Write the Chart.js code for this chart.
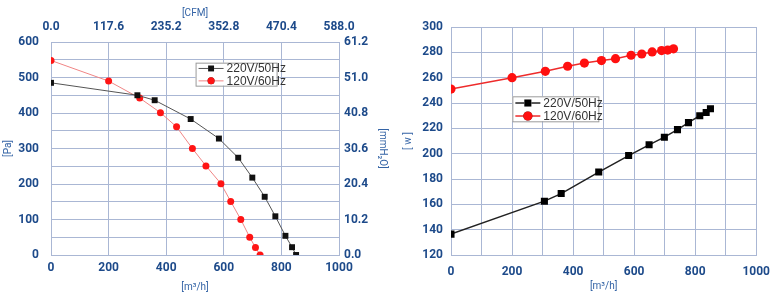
<!DOCTYPE html>
<html>
<head>
<meta charset="utf-8">
<script src="https://cdn.jsdelivr.net/npm/chart.js@4.4.1/dist/chart.umd.min.js"></script>
<style>
  body { margin: 0; background: #fff; }
  #wrap { position: relative; width: 780px; height: 299px; }
  #c1 { position: absolute; left: 0; top: 0; }
  #c2 { position: absolute; left: 392px; top: 0; }
</style>
</head>
<body>
<div id="wrap">
  <canvas id="c1" width="392" height="299"></canvas>
  <canvas id="c2" width="388" height="299"></canvas>
</div>
<script>
// pressure curve (left) - airflow m3/h vs Pa
const pq220Flow = [0, 300, 360, 485, 583, 650, 699, 742, 779, 814, 837, 851];
const pq220Pa   = [485, 450, 436, 383, 328, 274, 218, 164, 109, 54, 22, 0];
const pq120Flow = [0, 200, 308, 380, 436, 491, 538, 590, 624, 659, 690, 710, 726];
const pq120Pa   = [548, 490, 442, 401, 361, 300, 251, 201, 151, 100, 50, 21, 0];

// power curve (right) - airflow m3/h vs W
const pw220Flow = [0, 306, 361, 484, 582, 649, 699, 742, 778, 815, 836, 850];
const pw220W    = [136.5, 162.5, 168.5, 185.5, 198.5, 207, 213, 219, 224.5, 230, 232.5, 235.5];
const pw120Flow = [0, 200, 309, 382, 437, 493, 539, 590, 625, 659, 690, 710, 729];
const pw120W    = [251, 260, 265, 269, 271.5, 273.5, 275, 277.7, 278.7, 280.3, 281.4, 281.8, 282.8];

const seriesLabels = ['220V/50Hz', '120V/60Hz'];
const CFM_PER_M3H = 0.588;
const MMH2O_PER_PA = 0.102;

const gridColor = '#aab7d4';
const tickColor = '#1d4a8a';
const titleColor = '#3464a6';
const tickFont = {family: 'Roboto', size: 12, weight: 'bold'};
const titleFont = {family: 'Roboto', size: 10};

const pts = (xs, ys) => xs.map((x, i) => ({x: x, y: ys[i]}));

// boxed legend drawn inside the plot area
const boxLegend = {
  id: 'boxLegend',
  afterDraw(chart, args, opts) {
    const ctx = chart.ctx, a = chart.chartArea;
    const x = a.left + opts.fx * (a.right - a.left);
    const y = a.top + opts.fy * (a.bottom - a.top);
    ctx.save();
    ctx.fillStyle = '#fff';
    ctx.fillRect(x, y, opts.w, opts.h);
    ctx.strokeStyle = '#9a9a9a';
    ctx.lineWidth = 1;
    ctx.strokeRect(x + 0.5, y + 0.5, opts.w, opts.h);
    chart.data.datasets.forEach((ds, i) => {
      const ry = y + opts.row0 + i * opts.rowH;
      ctx.strokeStyle = ds.borderColor;
      ctx.lineWidth = ds.borderWidth;
      ctx.beginPath();
      ctx.moveTo(x + 3, ry);
      ctx.lineTo(x + 3 + opts.lineW, ry);
      ctx.stroke();
      Chart.helpers.drawPoint(ctx, {pointStyle: ds.pointStyle, rotation: 0, borderWidth: 0, radius: ds.pointRadius},
        x + 3 + opts.lineW / 2, ry);
      ctx.fillStyle = ds.pointBackgroundColor;
      ctx.fill();
      ctx.fillStyle = '#333';
      ctx.font = '12px "Liberation Sans"';
      ctx.textBaseline = 'middle';
      ctx.fillText(ds.label, x + 6 + opts.lineW, ry + 0.5);
    });
    ctx.restore();
  }
};

const fixSize = (n) => (scale) => {
  if (scale.isHorizontal()) scale.height = n; else scale.width = n;
};

const c1 = new Chart(document.getElementById('c1'), {
  type: 'line',
  data: {
    datasets: [{
      label: seriesLabels[0],
      data: pts(pq220Flow, pq220Pa),
      borderColor: '#555', borderWidth: 1,
      pointStyle: 'rect', pointRadius: 4.2,
      pointBackgroundColor: '#111', pointBorderWidth: 0
    }, {
      label: seriesLabels[1],
      data: pts(pq120Flow, pq120Pa),
      borderColor: '#f08585', borderWidth: 1,
      pointStyle: 'circle', pointRadius: 3.5,
      pointBackgroundColor: '#ff1414', pointBorderWidth: 0
    }]
  },
  options: {
    responsive: false,
    animation: false,
    layout: {padding: 0},
    plugins: {
      legend: {display: false},
      tooltip: {enabled: false},
      boxLegend: {fx: 0.502, fy: 0.097, w: 81, h: 23, row0: 5.8, rowH: 12.4, lineW: 25}
    },
    scales: {
      x: {
        type: 'linear', position: 'bottom', min: 0, max: 1000,
        afterFit: fixSize(44),
        grid: {color: gridColor, drawTicks: false},
        border: {color: gridColor},
        ticks: {stepSize: 100, padding: 6, color: tickColor, font: tickFont, maxRotation: 0,
          callback: v => v % 200 === 0 ? v : ''},
        title: {display: true, text: '[m³/h]', color: titleColor, font: titleFont, padding: {top: 0, bottom: 6}}
      },
      x2: {
        type: 'linear', position: 'top', min: 0, max: 1000,
        afterFit: fixSize(42),
        grid: {display: false, drawTicks: false},
        border: {color: gridColor},
        ticks: {stepSize: 100, padding: 8, color: tickColor, font: tickFont, maxRotation: 0,
          callback: v => v % 200 === 0 ? (v * CFM_PER_M3H).toFixed(1) : ''},
        title: {display: true, text: '[CFM]', color: titleColor, font: titleFont, padding: {top: 7, bottom: 0}}
      },
      y: {
        min: 0, max: 600,
        afterFit: fixSize(51),
        grid: {color: gridColor, drawTicks: false},
        border: {color: gridColor},
        ticks: {stepSize: 50, padding: 12, color: tickColor, font: tickFont,
          callback: v => v % 100 === 0 ? v : ''},
        title: {display: true, text: '[Pa]', color: titleColor, font: titleFont, padding: {top: 2, bottom: 0}}
      },
      y2: {
        position: 'right', min: 0, max: 600,
        afterFit: fixSize(53),
        grid: {display: false, drawTicks: false},
        border: {color: gridColor},
        ticks: {stepSize: 50, padding: 5, color: tickColor, font: tickFont,
          callback: v => v % 100 === 0 ? (v * MMH2O_PER_PA).toFixed(1) : ''},
        title: {display: true, text: '[mmH₂O]', color: titleColor, font: titleFont, padding: {top: 4, bottom: 0}}
      }
    }
  },
  plugins: [boxLegend]
});

const c2 = new Chart(document.getElementById('c2'), {
  type: 'line',
  data: {
    datasets: [{
      label: seriesLabels[0],
      data: pts(pw220Flow, pw220W),
      borderColor: '#222', borderWidth: 1.5,
      pointStyle: 'rect', pointRadius: 5,
      pointBackgroundColor: '#000', pointBorderWidth: 0
    }, {
      label: seriesLabels[1],
      data: pts(pw120Flow, pw120W),
      borderColor: '#ee2b2b', borderWidth: 1.5,
      pointStyle: 'circle', pointRadius: 4.6,
      pointBackgroundColor: '#ff1010', pointBorderWidth: 0
    }]
  },
  options: {
    responsive: false,
    animation: false,
    layout: {padding: {top: 27, right: 21}},
    plugins: {
      legend: {display: false},
      tooltip: {enabled: false},
      boxLegend: {fx: 0.201, fy: 0.304, w: 86, h: 25, row0: 6.7, rowH: 13, lineW: 25}
    },
    scales: {
      x: {
        type: 'linear', min: 0, max: 1000,
        afterFit: fixSize(44),
        grid: {color: gridColor, drawTicks: false},
        border: {color: gridColor},
        ticks: {stepSize: 100, padding: 10, color: tickColor, font: tickFont, maxRotation: 0,
          callback: v => v % 200 === 0 ? v : ''},
        title: {display: true, text: '[m³/h]', color: titleColor, font: titleFont, padding: {top: 0, bottom: 7}}
      },
      y: {
        min: 120, max: 300,
        afterFit: fixSize(59),
        grid: {color: gridColor, drawTicks: false},
        border: {color: gridColor},
        ticks: {stepSize: 10, padding: 8, color: tickColor, font: tickFont,
          callback: v => v % 20 === 0 ? v : ''},
        title: {display: true, text: '[ w ]', color: titleColor, font: titleFont, padding: {top: 10, bottom: 0}}
      }
    }
  },
  plugins: [boxLegend]
});
</script>
</body>
</html>
